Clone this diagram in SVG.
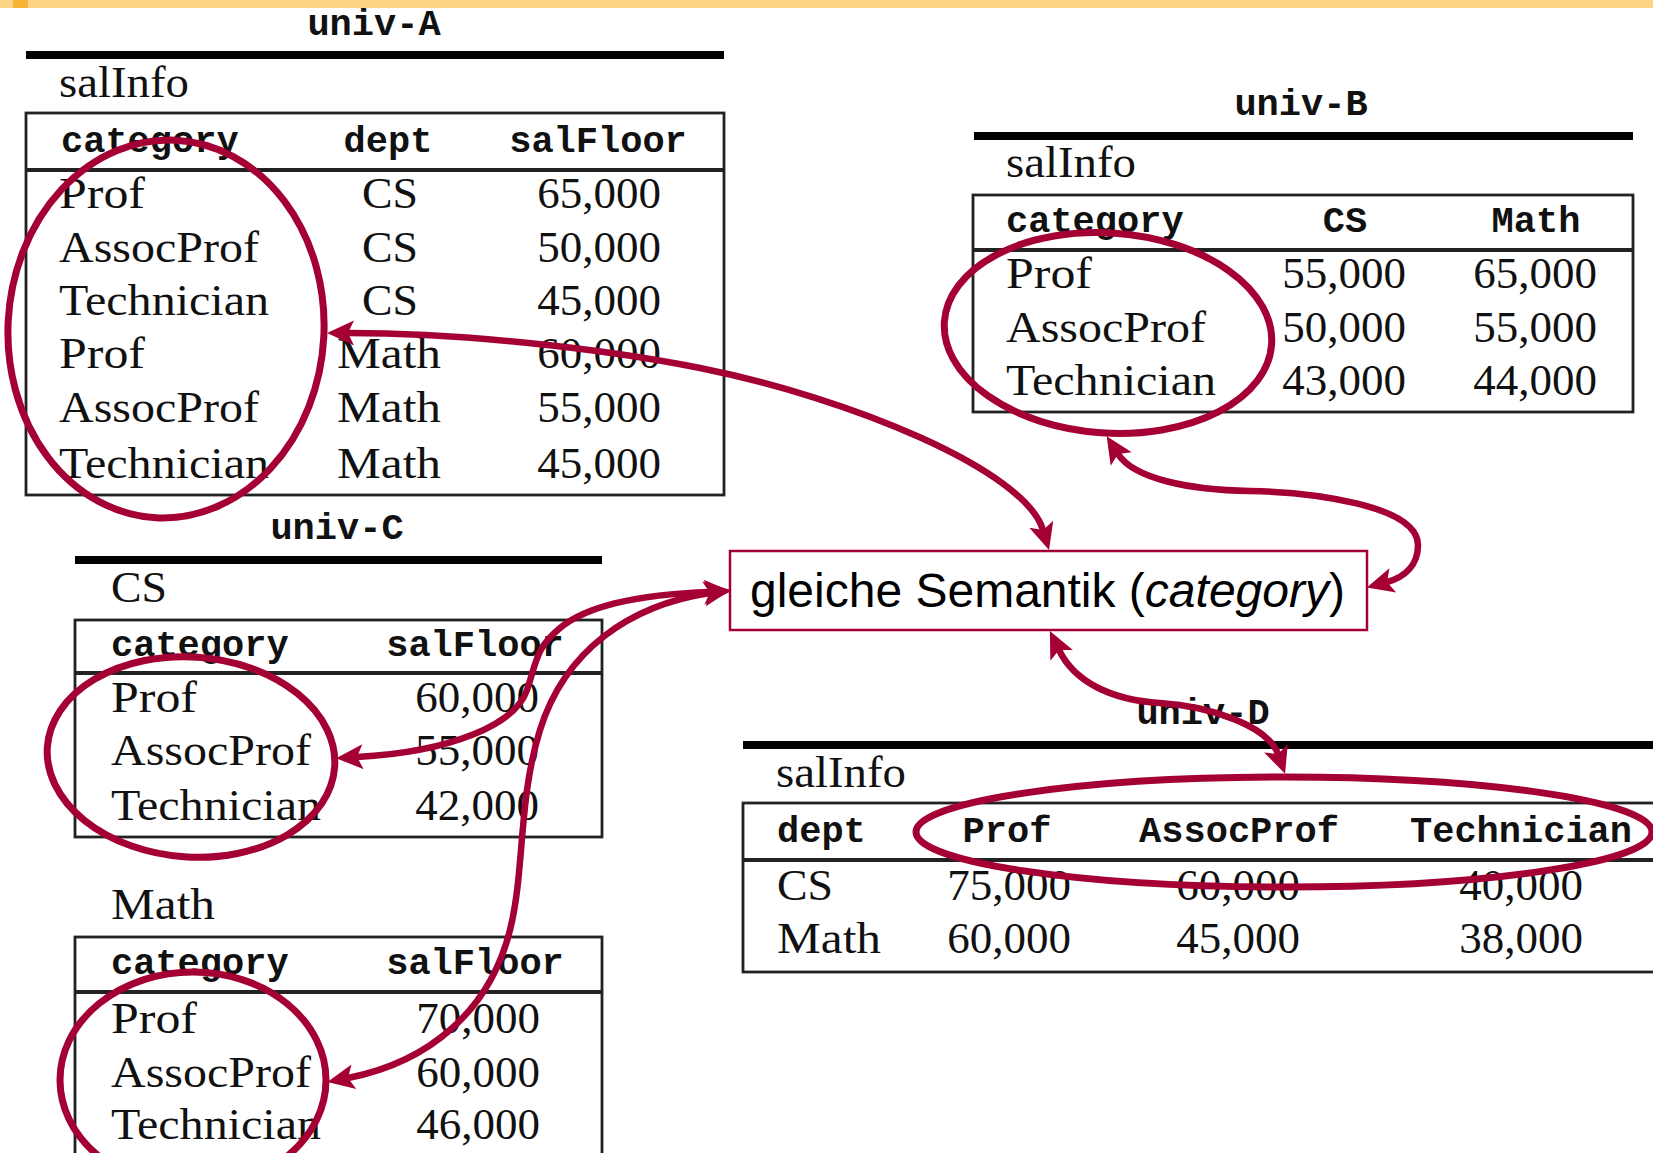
<svg xmlns="http://www.w3.org/2000/svg" width="1653" height="1153" viewBox="0 0 1653 1153">
<style>
.t{font-family:"Liberation Mono","DejaVu Sans Mono",monospace;font-weight:bold;font-size:37px;fill:#111}
.r{font-family:"Liberation Serif","DejaVu Serif",serif;font-size:45px;fill:#111}
.m{text-anchor:middle}
.e{text-anchor:end}
.rule{fill:#000}
.tbl{fill:none;stroke:#222;stroke-width:2.8}
.hd{stroke:#222;stroke-width:3.8}
.hl{fill:none;stroke:#A50034;stroke-width:7}
.conn{fill:none;stroke:#A50034;stroke-width:6.5;marker-start:url(#ah);marker-end:url(#ah)}
.box{fill:#fff;stroke:#A50034;stroke-width:2.5}
.lbl{font-family:"Liberation Sans","Arial",sans-serif;font-size:48px;fill:#000}
</style>
<defs>
<marker id="ah" viewBox="-2 -15 32 30" refX="6" refY="0" markerWidth="32" markerHeight="30" markerUnits="userSpaceOnUse" orient="auto-start-reverse">
<path d="M0,-12.5 L27,0 L0,12.5 L6,0 Z" fill="#A50034"/>
</marker>
</defs>
<rect x="0" y="0" width="1653" height="1153" fill="#fff"/>
<rect x="0" y="0" width="1653" height="8" fill="#FCD685"/>
<rect x="13" y="0" width="15" height="8" fill="#F7B436"/>

<g id="univ-A">
<text class="t m" x="374" y="35">univ-A</text>
<rect class="rule" x="26" y="51" width="698" height="8"/>
<text class="r" x="59" y="97" textLength="130" lengthAdjust="spacingAndGlyphs">salInfo</text>
<rect class="tbl" x="26" y="113" width="698" height="382"/>
<line class="hd" x1="26" y1="170" x2="724" y2="170"/>
<text class="t" x="61" y="152">category</text>
<text class="t m" x="388" y="152">dept</text>
<text class="t m" x="598" y="152">salFloor</text>
<g class="r">
<text x="59" y="208" textLength="86" lengthAdjust="spacingAndGlyphs">Prof</text>
<text x="59" y="262" textLength="200" lengthAdjust="spacingAndGlyphs">AssocProf</text>
<text x="59" y="315" textLength="210" lengthAdjust="spacingAndGlyphs">Technician</text>
<text x="59" y="368" textLength="86" lengthAdjust="spacingAndGlyphs">Prof</text>
<text x="59" y="422" textLength="200" lengthAdjust="spacingAndGlyphs">AssocProf</text>
<text x="59" y="478" textLength="210" lengthAdjust="spacingAndGlyphs">Technician</text>
<text x="362" y="208" textLength="56" lengthAdjust="spacingAndGlyphs">CS</text>
<text x="362" y="262" textLength="56" lengthAdjust="spacingAndGlyphs">CS</text>
<text x="362" y="315" textLength="56" lengthAdjust="spacingAndGlyphs">CS</text>
<text x="337" y="368" textLength="104" lengthAdjust="spacingAndGlyphs">Math</text>
<text x="337" y="422" textLength="104" lengthAdjust="spacingAndGlyphs">Math</text>
<text x="337" y="478" textLength="104" lengthAdjust="spacingAndGlyphs">Math</text>
<text class="e" x="661" y="208">65,000</text>
<text class="e" x="661" y="262">50,000</text>
<text class="e" x="661" y="315">45,000</text>
<text class="e" x="661" y="368">60,000</text>
<text class="e" x="661" y="422">55,000</text>
<text class="e" x="661" y="478">45,000</text>
</g>
<ellipse class="hl" cx="166" cy="329" rx="158" ry="189" transform="rotate(3 166 329)"/>
</g>

<g id="univ-B">
<text class="t m" x="1301" y="115">univ-B</text>
<rect class="rule" x="974" y="132" width="659" height="8"/>
<text class="r" x="1006" y="177" textLength="130" lengthAdjust="spacingAndGlyphs">salInfo</text>
<rect class="tbl" x="973" y="195" width="660" height="217"/>
<line class="hd" x1="973" y1="250" x2="1633" y2="250"/>
<text class="t" x="1006" y="232">category</text>
<text class="t m" x="1345" y="232">CS</text>
<text class="t m" x="1536" y="232">Math</text>
<g class="r">
<text x="1006" y="288" textLength="86" lengthAdjust="spacingAndGlyphs">Prof</text>
<text x="1006" y="342" textLength="200" lengthAdjust="spacingAndGlyphs">AssocProf</text>
<text x="1006" y="395" textLength="210" lengthAdjust="spacingAndGlyphs">Technician</text>
<text class="e" x="1406" y="288">55,000</text>
<text class="e" x="1406" y="342">50,000</text>
<text class="e" x="1406" y="395">43,000</text>
<text class="e" x="1597" y="288">65,000</text>
<text class="e" x="1597" y="342">55,000</text>
<text class="e" x="1597" y="395">44,000</text>
</g>
<ellipse class="hl" cx="1108" cy="333" rx="164" ry="100" transform="rotate(4 1108 333)"/>
</g>

<g id="univ-C">
<text class="t m" x="337" y="539">univ-C</text>
<rect class="rule" x="75" y="556" width="527" height="8"/>
<text class="r" x="111" y="602" textLength="56" lengthAdjust="spacingAndGlyphs">CS</text>
<rect class="tbl" x="75" y="620" width="527" height="217"/>
<line class="hd" x1="75" y1="673" x2="602" y2="673"/>
<text class="t" x="111" y="656">category</text>
<text class="t m" x="475" y="656">salFloor</text>
<g class="r">
<text x="111" y="712" textLength="86" lengthAdjust="spacingAndGlyphs">Prof</text>
<text x="111" y="765" textLength="200" lengthAdjust="spacingAndGlyphs">AssocProf</text>
<text x="111" y="820" textLength="210" lengthAdjust="spacingAndGlyphs">Technician</text>
<text class="e" x="539" y="712">60,000</text>
<text class="e" x="539" y="765">55,000</text>
<text class="e" x="539" y="820">42,000</text>
</g>
<text class="r" x="111" y="919" textLength="104" lengthAdjust="spacingAndGlyphs">Math</text>
<rect class="tbl" x="75" y="937" width="527" height="260"/>
<line class="hd" x1="75" y1="992" x2="602" y2="992"/>
<text class="t" x="111" y="974">category</text>
<text class="t m" x="475" y="974">salFloor</text>
<g class="r">
<text x="111" y="1033" textLength="86" lengthAdjust="spacingAndGlyphs">Prof</text>
<text x="111" y="1087" textLength="200" lengthAdjust="spacingAndGlyphs">AssocProf</text>
<text x="111" y="1139" textLength="210" lengthAdjust="spacingAndGlyphs">Technician</text>
<text class="e" x="540" y="1033">70,000</text>
<text class="e" x="540" y="1087">60,000</text>
<text class="e" x="540" y="1139">46,000</text>
</g>
<ellipse class="hl" cx="191" cy="757" rx="144" ry="100" transform="rotate(4 191 757)"/>
<ellipse class="hl" cx="193" cy="1080" rx="133" ry="108"/>
</g>

<g id="univ-D">
<text class="t m" x="1203" y="724">univ-D</text>
<rect class="rule" x="743" y="741" width="920" height="8"/>
<text class="r" x="776" y="787" textLength="130" lengthAdjust="spacingAndGlyphs">salInfo</text>
<rect class="tbl" x="743" y="803" width="930" height="169"/>
<line class="hd" x1="743" y1="860" x2="1660" y2="860"/>
<text class="t" x="777" y="842">dept</text>
<text class="t m" x="1007" y="842">Prof</text>
<text class="t m" x="1239" y="842">AssocProf</text>
<text class="t m" x="1521" y="842">Technician</text>
<g class="r">
<text x="777" y="900" textLength="56" lengthAdjust="spacingAndGlyphs">CS</text>
<text x="777" y="953" textLength="104" lengthAdjust="spacingAndGlyphs">Math</text>
<text class="e" x="1071" y="900">75,000</text>
<text class="e" x="1071" y="953">60,000</text>
<text class="e" x="1300" y="900">60,000</text>
<text class="e" x="1300" y="953">45,000</text>
<text class="e" x="1583" y="900">40,000</text>
<text class="e" x="1583" y="953">38,000</text>
</g>
<ellipse class="hl" cx="1284" cy="832" rx="368" ry="55"/>
</g>

<g id="semantik">
<rect class="box" x="730" y="551" width="637" height="79"/>
<text class="lbl" x="750" y="607">gleiche Semantik (<tspan font-style="italic">category</tspan>)</text>
</g>

<g id="connectors">
<path class="conn" d="M 348,333 C 460,333 600,348 700,368 C 850,398 1025,470 1043,530"/>
<path class="conn" d="M 1118,454 C 1134,479 1190,490 1250,491 C 1310,492 1418,505 1418,545 C 1418,565 1405,577 1387,582"/>
<path class="conn" d="M 1059,650 C 1074,681 1110,700 1160,703 C 1210,706 1268,726 1278,754"/>
<path class="conn" d="M 357,757 C 450,752 515,725 527,690 C 537,660 536,648 560,628 C 590,603 650,594 710,592"/>
<path class="conn" d="M 348,1078 C 430,1062 490,1010 510,930 C 525,870 518,800 540,730 C 565,650 630,605 710,593"/>
</g>
</svg>
